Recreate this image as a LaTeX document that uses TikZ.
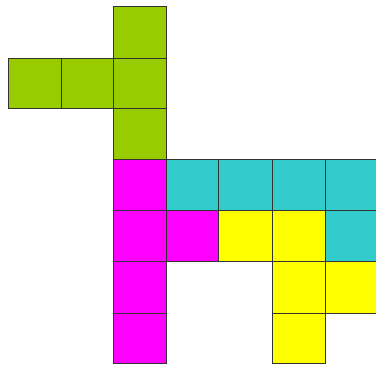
\documentclass[tikz,border=0pt]{standalone}
\begin{document}
\begin{tikzpicture}[x=1pt,y=-1pt,
  cellbox/.style={draw=black!80,line width=0.8pt}]
\definecolor{pgreen}{HTML}{99CC00}
\definecolor{pmag}{HTML}{FF00FF}
\definecolor{pcyan}{HTML}{33CCCC}
\definecolor{pyel}{HTML}{FFFF00}
\useasboundingbox (0,0) rectangle (376,367);
\clip (0,0) rectangle (376,367);
% green
\filldraw[cellbox,fill=pgreen] (113.5,6) rectangle (166,58);
\filldraw[cellbox,fill=pgreen] (8,58) rectangle (61,108);
\filldraw[cellbox,fill=pgreen] (61,58) rectangle (113.5,108);
\filldraw[cellbox,fill=pgreen] (113.5,58) rectangle (166,108);
\filldraw[cellbox,fill=pgreen] (113.5,108) rectangle (166,159);
% magenta
\filldraw[cellbox,fill=pmag] (113.5,159) rectangle (166,210);
\filldraw[cellbox,fill=pmag] (113.5,210) rectangle (166,261);
\filldraw[cellbox,fill=pmag] (166,210) rectangle (218,261);
\filldraw[cellbox,fill=pmag] (113.5,261) rectangle (166,313);
\filldraw[cellbox,fill=pmag] (113.5,313) rectangle (166,363);
% cyan
\filldraw[cellbox,fill=pcyan] (166,159) rectangle (218,210);
\filldraw[cellbox,fill=pcyan] (218,159) rectangle (272,210);
\filldraw[cellbox,fill=pcyan] (272,159) rectangle (325,210);
\filldraw[cellbox,fill=pcyan] (325,159) rectangle (380,210);
\filldraw[cellbox,fill=pcyan] (325,210) rectangle (380,261);
% yellow
\filldraw[cellbox,fill=pyel] (218,210) rectangle (272,261);
\filldraw[cellbox,fill=pyel] (272,210) rectangle (325,261);
\filldraw[cellbox,fill=pyel] (272,261) rectangle (325,313);
\filldraw[cellbox,fill=pyel] (325,261) rectangle (380,313);
\filldraw[cellbox,fill=pyel] (272,313) rectangle (325,363);
\end{tikzpicture}
\end{document}
